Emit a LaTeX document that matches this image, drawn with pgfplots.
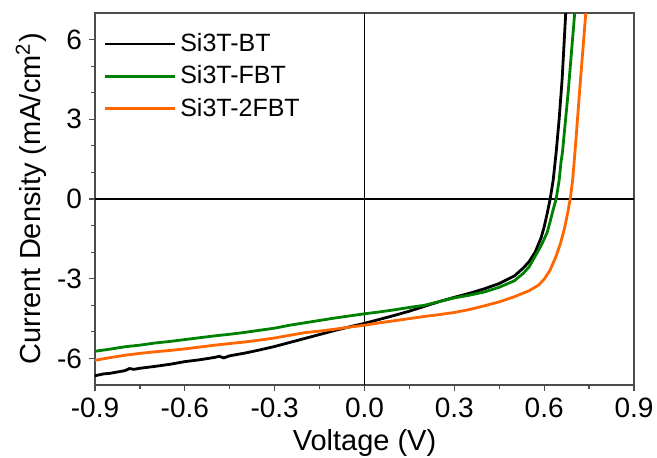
\documentclass[border=0pt]{standalone}
\usepackage{fontspec}
\setmainfont{Liberation Sans}
\usepackage{pgfplots}
\pgfplotsset{compat=1.18}

\definecolor{bt}{RGB}{0,0,0}
\definecolor{fbt}{RGB}{0,128,0}
\definecolor{twofbt}{RGB}{255,102,0}

\begin{document}
\begin{tikzpicture}
\begin{axis}[
  name=ax,
  scale only axis,
  width=269.5pt, height=186pt,
  xmin=-0.9, xmax=0.9, ymin=-7, ymax=7,
  xtick={-0.9,-0.6,-0.3,0,0.3,0.6,0.9},
  xticklabels={-0.9,-0.6,-0.3,0.0,0.3,0.6,0.9},
  ytick={-6,-3,0,3,6},
  yticklabels={-6,-3,0,3,6},
  minor x tick num=1, minor y tick num=2,
  tick align=outside, xtick pos=bottom, ytick pos=left,
  major tick length=3pt, minor tick length=2pt,
  axis line style={black!70, line width=0.7pt},
  every tick/.style={black!70, line width=0.6pt},
  tick label style={font=\fontsize{14}{16}\selectfont},
  label style={font=\fontsize{14.5}{17}\selectfont},
  xlabel={Voltage (V)},
  ylabel={Current Density (mA/cm\textsuperscript{2})},
  xlabel style={at={(axis description cs:0.5,0)}, anchor=center, yshift=-29pt},
  ylabel style={at={([xshift=-32pt]axis description cs:0,0.5)}, anchor=center},
  extra x ticks={0}, extra x tick labels={},
  extra y ticks={0}, extra y tick labels={},
  extra tick style={grid=major, major grid style={black, line width=0.6pt}, major tick length=0pt},
  legend style={draw=none, fill=none, at={(axis description cs:0.015,0.957)}, anchor=north west,
    font=\fontsize{12.5}{15}\selectfont, row sep=1.6pt, inner sep=0pt},
  legend cell align=left,
  legend image code/.code={\draw[#1, line width=1.4pt] (0pt,0pt) -- (35pt,0pt);},
  every axis plot/.append style={line width=1.4pt},
]
\addplot[bt] coordinates {
(-0.90,-6.65) (-0.87,-6.58) (-0.85,-6.56) (-0.82,-6.50) (-0.80,-6.46) (-0.785,-6.38)
(-0.77,-6.41) (-0.75,-6.37) (-0.70,-6.30) (-0.65,-6.22) (-0.60,-6.12) (-0.55,-6.05)
(-0.50,-5.96) (-0.485,-5.92) (-0.47,-5.98) (-0.45,-5.90) (-0.40,-5.80) (-0.35,-5.68)
(-0.30,-5.55) (-0.25,-5.40) (-0.20,-5.25) (-0.15,-5.10) (-0.10,-4.95) (-0.05,-4.81)
(0.00,-4.68) (0.05,-4.53) (0.10,-4.38) (0.15,-4.22) (0.20,-4.04) (0.25,-3.86)
(0.30,-3.70) (0.35,-3.55) (0.40,-3.38) (0.45,-3.18) (0.50,-2.90) (0.53,-2.60)
(0.55,-2.35) (0.57,-2.00) (0.59,-1.45) (0.60,-1.05) (0.61,-0.55) (0.62,0.00)
(0.63,0.70) (0.64,1.75) (0.65,3.00) (0.66,4.50) (0.672,7.00) (0.675,7.4)
};
\addlegendentry{Si3T-BT}
\addplot[fbt] coordinates {
(-0.90,-5.73) (-0.85,-5.65) (-0.80,-5.56) (-0.75,-5.50) (-0.70,-5.42) (-0.65,-5.36)
(-0.60,-5.29) (-0.55,-5.22) (-0.50,-5.15) (-0.45,-5.09) (-0.40,-5.02) (-0.35,-4.94)
(-0.30,-4.86) (-0.25,-4.75) (-0.20,-4.66) (-0.15,-4.57) (-0.10,-4.48) (-0.05,-4.40)
(0.00,-4.32) (0.05,-4.25) (0.10,-4.17) (0.15,-4.08) (0.20,-4.00) (0.25,-3.86)
(0.30,-3.72) (0.35,-3.62) (0.40,-3.50) (0.45,-3.32) (0.50,-3.08) (0.53,-2.80)
(0.55,-2.55) (0.57,-2.15) (0.59,-1.75) (0.61,-1.26) (0.62,-0.85) (0.63,-0.40)
(0.64,0.00) (0.65,0.70) (0.656,1.37) (0.661,1.75) (0.68,4.00) (0.702,7.00) (0.705,7.4)
};
\addlegendentry{Si3T-FBT}
\addplot[twofbt] coordinates {
(-0.90,-6.07) (-0.85,-5.97) (-0.80,-5.88) (-0.75,-5.81) (-0.70,-5.75) (-0.65,-5.70)
(-0.60,-5.64) (-0.55,-5.57) (-0.50,-5.50) (-0.45,-5.44) (-0.40,-5.38) (-0.35,-5.31)
(-0.30,-5.23) (-0.25,-5.13) (-0.20,-5.03) (-0.15,-4.97) (-0.10,-4.90) (-0.05,-4.82)
(0.00,-4.75) (0.05,-4.66) (0.10,-4.58) (0.15,-4.50) (0.20,-4.42) (0.25,-4.35)
(0.30,-4.27) (0.35,-4.16) (0.40,-4.02) (0.45,-3.87) (0.50,-3.68) (0.55,-3.45)
(0.58,-3.25) (0.60,-3.02) (0.62,-2.67) (0.64,-2.15) (0.655,-1.65) (0.668,-1.10)
(0.678,-0.55) (0.687,0.00) (0.695,0.70) (0.70,1.37) (0.71,2.80) (0.72,4.30)
(0.739,7.00) (0.742,7.4)
};
\addlegendentry{Si3T-2FBT}
\end{axis}
\pgfresetboundingbox
\useasboundingbox ([shift={(-47.5pt,-36pt)}]ax.south west) rectangle ([shift={(11.5pt,6.5pt)}]ax.north east);
\end{tikzpicture}
\end{document}
